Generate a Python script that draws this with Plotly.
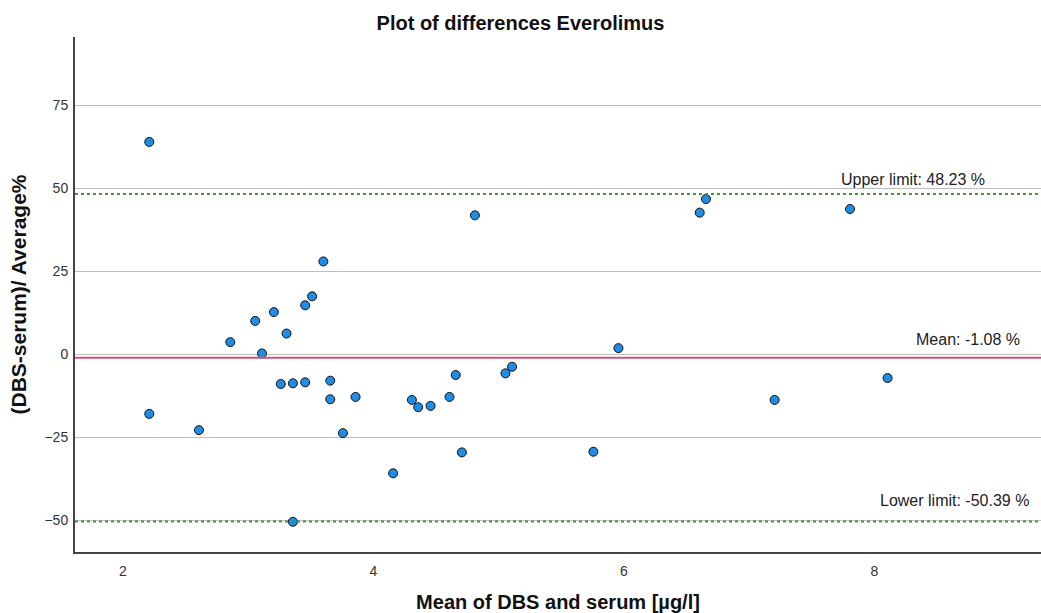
import plotly.graph_objects as go

mean_vals = [2.21, 4.81, 3.60, 3.51, 3.455, 3.205, 3.056, 2.857, 3.11, 3.306, 3.26, 3.357,
             3.455, 3.655, 3.655, 3.857, 3.756, 2.21, 2.607, 4.157, 4.307, 4.357, 4.456,
             4.607, 4.657, 4.706, 5.054, 5.107, 3.357, 6.655, 6.605, 7.805, 5.956, 5.756,
             7.203, 8.105]
diff_pct = [63.9, 41.8, 27.9, 17.4, 14.7, 12.65, 10.0, 3.6, 0.2, 6.2, -9.0, -8.8,
            -8.5, -8.0, -13.6, -12.9, -23.8, -18.0, -22.9, -35.9, -13.8, -16.0, -15.6,
            -12.9, -6.3, -29.6, -5.8, -3.8, -50.5, 46.7, 42.6, 43.7, 1.8, -29.4,
            -13.8, -7.2]

mean_diff = -1.08
upper_limit = 48.23
lower_limit = -50.39
y_ticks = [-50, -25, 0, 25, 50, 75]
x_ticks = [2, 4, 6, 8]

x_range = [1.617, 9.33]
y_range = [-59.6, 95.5]

font = "Liberation Sans, Arial, sans-serif"

fig = go.Figure()

fig.add_trace(go.Scatter(
    x=mean_vals, y=diff_pct, mode="markers",
    marker=dict(size=9, color="#1f8ce6", line=dict(color="#111111", width=1)),
    showlegend=False, hoverinfo="x+y"))

fig.add_hline(y=upper_limit, line=dict(color="#3a9a3a", width=2, dash="dot"))
fig.add_hline(y=lower_limit, line=dict(color="#3a9a3a", width=2, dash="dot"))
fig.add_hline(y=mean_diff, line=dict(color="#c8557a", width=2))

ann_font = dict(family=font, size=16, color="#222222")
fig.add_annotation(x=8.895, y=upper_limit, xref="x", yref="y", text="Upper limit: 48.23 %",
                   showarrow=False, xanchor="right", yanchor="bottom", yshift=4, font=ann_font)
fig.add_annotation(x=9.18, y=mean_diff, xref="x", yref="y", text="Mean: -1.08 %",
                   showarrow=False, xanchor="right", yanchor="bottom", yshift=8, font=ann_font)
fig.add_annotation(x=9.25, y=lower_limit, xref="x", yref="y", text="Lower limit: -50.39 %",
                   showarrow=False, xanchor="right", yanchor="bottom", yshift=10, font=ann_font)

fig.update_layout(
    width=1041, height=613,
    margin=dict(l=75, r=0, t=37, b=61, autoexpand=False),
    paper_bgcolor="white", plot_bgcolor="white",
    title=dict(text="<b>Plot of differences Everolimus</b>", x=0.5, xanchor="center",
               y=1 - 23 / 613, yanchor="middle", font=dict(family=font, size=20, color="#111111")),
    font=dict(family=font),
)

fig.update_xaxes(
    range=x_range, tickvals=x_ticks, ticks="outside", ticklen=5, tickcolor="rgba(0,0,0,0)",
    showgrid=False, zeroline=False,
    showline=True, linecolor="#444444", linewidth=2,
    tickfont=dict(family=font, size=14, color="#333333"),
    title=dict(text="<b>Mean of DBS and serum [µg/l]</b>", standoff=19,
               font=dict(family=font, size=20, color="#111111")),
    automargin=False)

fig.update_yaxes(
    range=y_range, tickvals=y_ticks, ticks="outside", ticklen=2, tickcolor="rgba(0,0,0,0)",
    showgrid=True, gridcolor="#bdbdbd", gridwidth=1,
    zeroline=False, showline=True, linecolor="#444444", linewidth=2,
    tickfont=dict(family=font, size=14, color="#333333"),
    title=dict(text="<b>(DBS-serum)/ Average%</b>", standoff=12,
               font=dict(family=font, size=21, color="#111111")),
    automargin=False)

fig.write_html("out.html", config={"displayModeBar": False},
               post_script="document.body.style.margin='0';document.body.style.overflow='hidden';")
